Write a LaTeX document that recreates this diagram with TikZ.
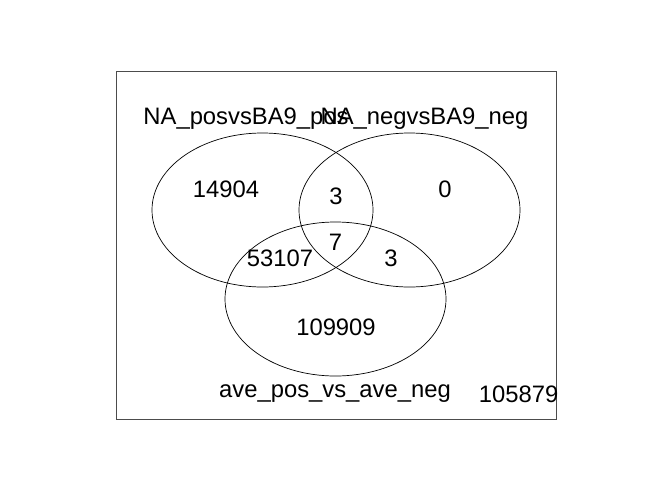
\documentclass[tikz,border=0pt]{standalone}
\usepackage{fontspec}
\setmainfont{Liberation Sans}
\usetikzlibrary{shapes.geometric}

\begin{document}
\begin{tikzpicture}[x=1pt,y=-1pt]
  \tikzstyle{set}=[ellipse, draw=black, line width=0.7pt, inner sep=0pt, minimum width=221, minimum height=154]
  \tikzstyle{num}=[inner sep=0pt, font=\fontsize{23.8}{28}\selectfont]
  \tikzstyle{lab}=[num, anchor=base]
  \useasboundingbox (0,0) rectangle (672,480);
  \node[draw=black!70, line width=0.8pt, minimum width=440, minimum height=348, inner sep=0pt] (frame) at (336,245) {};
    \node[set] (posA) at (262.5,210) {};
    \node[set] (negA) at (409.5,210) {};
    \node[set] (ave) at (335.5,299) {};
    \node[lab] (posAlab) at (246,124.3) {NA\_posvsBA9\_pos};
    \node[lab] (negAlab) at (424.5,124.3) {NA\_negvsBA9\_neg};
    \node[lab] (avelab) at (335,397.5) {ave\_pos\_vs\_ave\_neg};
    \node[num] (onlyA) at (226,189) {14904};
    \node[num] (onlyB) at (445,189) {0};
    \node[num] (AB) at (336,196) {3};
    \node[num] (ABC) at (335.5,242) {7};
    \node[num] (AC) at (280,258) {53107};
    \node[num] (BC) at (391,258) {3};
    \node[num] (onlyC) at (336,327.5) {109909};
    \node[num] (none) at (518.7,394.5) {105879};
  \end{tikzpicture}
\end{document}
